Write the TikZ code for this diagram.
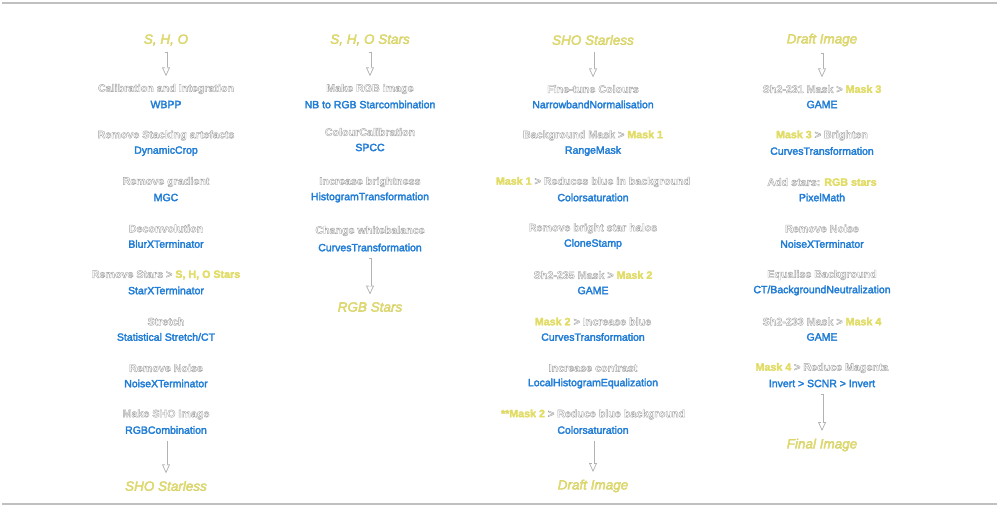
\documentclass[tikz,border=0pt]{standalone}
\usepackage{fontspec}
\setmainfont{Liberation Sans}
\usetikzlibrary{arrows.meta}
\definecolor{outl}{RGB}{178,178,178}
\definecolor{ylw}{RGB}{230,224,95}
\definecolor{blu}{RGB}{33,125,214}
\definecolor{framec}{RGB}{192,192,192}
% text drawn with fill + stroke (PDF text render mode 2)
\newcommand\strk[3]{\special{pdf:literal direct #1 RG #2 w 2 Tr}#3\special{pdf:literal direct 0 Tr}}
\newcommand\wht[1]{{\bfseries\color{white}\strk{0.64 0.64 0.64}{0.4}{#1}}}
\newcommand\ylo[1]{{\bfseries\color{ylw}\strk{0.86 0.84 0.42}{0.25}{#1}}}
\newcommand\ttl[1]{{\itshape\color{ylw}\strk{0.82 0.80 0.42}{0.3}{#1}}}
\newcommand\blt[1]{{\color{blu}\strk{0.13 0.49 0.84}{0.3}{#1}}}
\tikzset{
  lbl/.style={font=\fontsize{10.7}{13}\selectfont, inner sep=2pt},
  tool/.style={font=\fontsize{10.5}{12}\selectfont, inner sep=2pt},
  title/.style={font=\fontsize{13.5}{16}\selectfont, inner sep=2pt},
  connbase/.style={draw=outl, line width=3pt, shorten <=4.5pt, shorten >=5.5pt,
    -{Triangle[open, length=9pt, width=8pt, line width=0.75pt, fill=white]}},
  conninner/.style={draw=white, line width=1.5pt, shorten <=5.3pt, shorten >=13.6pt},
  framel/.style={draw=framec, line width=1.6pt}
}
\begin{document}
\begin{tikzpicture}[x=1pt,y=-1pt]
\useasboundingbox (0,0) rectangle (1000,510);
\coordinate (fl1) at (2,3); \coordinate (fr1) at (997,3);
\coordinate (fl2) at (2,504); \coordinate (fr2) at (997,504);
\draw[framel] (fl1) -- (fr1);
\draw[framel] (fl2) -- (fr2);

% Column 1
\node[title] (a0) at (166,40) {\ttl{S, H, O}};
\node[lbl] (a1) at (166,89) {\wht{Calibration and Integration}};
\node[tool] (a1t) at (166,104.5) {\blt{WBPP}};
\node[lbl] (a2) at (166,135.5) {\wht{Remove Stacking artefacts}};
\node[tool] (a2t) at (166,151) {\blt{DynamicCrop}};
\node[lbl] (a3) at (166,182) {\wht{Remove gradient}};
\node[tool] (a3t) at (166,197.5) {\blt{MGC}};
\node[lbl] (a4) at (166,228.5) {\wht{Deconvolution}};
\node[tool] (a4t) at (166,244) {\blt{BlurXTerminator}};
\node[lbl] (a5) at (166,275) {\wht{Remove Stars >} \ylo{S, H, O Stars}};
\node[tool] (a5t) at (166,290.5) {\blt{StarXTerminator}};
\node[lbl] (a6) at (166,321.5) {\wht{Stretch}};
\node[tool] (a6t) at (166,337) {\blt{Statistical Stretch/CT}};
\node[lbl] (a7) at (166,368) {\wht{Remove Noise}};
\node[tool] (a7t) at (166,383.5) {\blt{NoiseXTerminator}};
\node[lbl] (a8) at (166,414.5) {\wht{Make SHO Image}};
\node[tool] (a8t) at (166,430) {\blt{RGBCombination}};
\node[title] (a9) at (166,486) {\ttl{SHO Starless}};
\draw[connbase] (a0) -- (a1); \draw[conninner] (a0) -- (a1);
\draw[connbase] (a8t) -- (a9); \draw[conninner] (a8t) -- (a9);

% Column 2
\node[title] (b0) at (370,40) {\ttl{S, H, O Stars}};
\node[lbl] (b1) at (370,89) {\wht{Make RGB image}};
\node[tool] (b1t) at (370,104.5) {\blt{NB to RGB Starcombination}};
\node[lbl] (b2) at (370,132) {\wht{ColourCalibration}};
\node[tool] (b2t) at (370,147.5) {\blt{SPCC}};
\node[lbl] (b3) at (370,182) {\wht{Increase brightness}};
\node[tool] (b3t) at (370,197.5) {\blt{HistogramTransformation}};
\node[lbl] (b4) at (370,231) {\wht{Change whitebalance}};
\node[tool] (b4t) at (370,247.5) {\blt{CurvesTransformation}};
\node[title] (b5) at (370,307) {\ttl{RGB Stars}};
\draw[connbase] (b0) -- (b1); \draw[conninner] (b0) -- (b1);
\draw[connbase] (b4t) -- (b5); \draw[conninner] (b4t) -- (b5);

% Column 3
\node[title] (c0) at (593,40) {\ttl{SHO Starless}};
\node[lbl] (c1) at (593,89) {\wht{Fine-tune Colours}};
\node[tool] (c1t) at (593,104.5) {\blt{NarrowbandNormalisation}};
\node[lbl] (c2) at (593,135.5) {\wht{Background Mask >} \ylo{Mask 1}};
\node[tool] (c2t) at (593,151) {\blt{RangeMask}};
\node[lbl] (c3) at (593,182) {\ylo{Mask 1} \wht{> Reduces blue in background}};
\node[tool] (c3t) at (593,197.5) {\blt{Colorsaturation}};
\node[lbl] (c4) at (593,228.5) {\wht{Remove bright star halos}};
\node[tool] (c4t) at (593,244) {\blt{CloneStamp}};
\node[lbl] (c5) at (593,275) {\wht{Sh2-235 Mask >} \ylo{Mask 2}};
\node[tool] (c5t) at (593,290.5) {\blt{GAME}};
\node[lbl] (c6) at (593,321.5) {\ylo{Mask 2} \wht{> Increase blue}};
\node[tool] (c6t) at (593,337) {\blt{CurvesTransformation}};
\node[lbl] (c7) at (593,368) {\wht{Increase contrast}};
\node[tool] (c7t) at (593,383.5) {\blt{LocalHistogramEqualization}};
\node[lbl] (c8) at (593,414.5) {\ylo{**Mask 2} \wht{> Reduce blue background}};
\node[tool] (c8t) at (593,430) {\blt{Colorsaturation}};
\node[title] (c9) at (593,486) {\ttl{Draft Image}};
\draw[connbase] (c0) -- (c1); \draw[conninner] (c0) -- (c1);
\draw[connbase] (c8t) -- (c9); \draw[conninner] (c8t) -- (c9);

% Column 4
\node[title] (d0) at (822,40) {\ttl{Draft Image}};
\node[lbl] (d1) at (822,89) {\wht{Sh2-231 Mask >} \ylo{Mask 3}};
\node[tool] (d1t) at (822,104.5) {\blt{GAME}};
\node[lbl] (d2) at (822,135.5) {\ylo{Mask 3} \wht{> Brighten}};
\node[tool] (d2t) at (822,151) {\blt{CurvesTransformation}};
\node[lbl] (d3) at (822,182) {\wht{Add stars:} \ylo{RGB stars}};
\node[tool] (d3t) at (822,197.5) {\blt{PixelMath}};
\node[lbl] (d4) at (822,228.5) {\wht{Remove Noise}};
\node[tool] (d4t) at (822,244) {\blt{NoiseXTerminator}};
\node[lbl] (d5) at (822,275) {\wht{Equalise Background}};
\node[tool] (d5t) at (822,290.5) {\blt{CT/BackgroundNeutralization}};
\node[lbl] (d6) at (822,321.5) {\wht{Sh2-233 Mask >} \ylo{Mask 4}};
\node[tool] (d6t) at (822,337) {\blt{GAME}};
\node[lbl] (d7) at (822,368) {\ylo{Mask 4} \wht{> Reduce Magenta}};
\node[tool] (d7t) at (822,383.5) {\blt{Invert > SCNR > Invert}};
\node[title] (d8) at (822,445) {\ttl{Final Image}};
\draw[connbase] (d0) -- (d1); \draw[conninner] (d0) -- (d1);
\draw[connbase] (d7t) -- (d8); \draw[conninner] (d7t) -- (d8);
\end{tikzpicture}
\end{document}
